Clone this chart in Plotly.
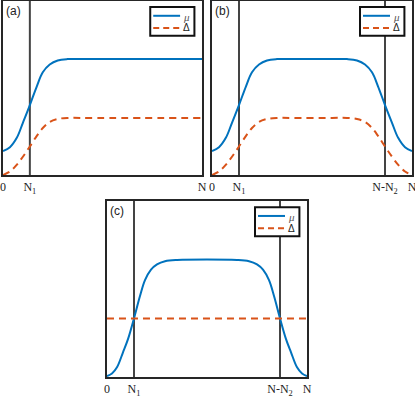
import plotly.graph_objects as go

BLUE = '#0072BD'
ORANGE = '#D95319'
FRAME = '#262626'
VLINE = '#444444'
PAGE_JS = "document.body.style.margin = '0';"

N = 200
N1 = 27
N_MINUS_N2 = 173

# panel (a): mu and delta rise near N1 and stay flat
xa_mu = [0, 7, 14, 20, 27, 34, 40, 47, 55, 65, 80, 200]
mu_a = [0.138, 0.160, 0.215, 0.300, 0.402, 0.510, 0.590, 0.635, 0.658, 0.666, 0.667, 0.667]
xa_delta = [0, 7, 14, 20, 27, 34, 40, 47, 55, 65, 80, 200]
delta_a = [0.0, 0.02, 0.06, 0.105, 0.164, 0.225, 0.270, 0.305, 0.322, 0.328, 0.328, 0.328]

# panel (b): rise at N1, fall at N-N2
xb = [0, 7, 14, 20, 27, 34, 40, 47, 55, 65, 80, 120, 135, 145, 153, 160, 166, 173, 180, 186, 193, 200]
mu_b = [0.138, 0.160, 0.215, 0.300, 0.402, 0.510, 0.590, 0.635, 0.658, 0.666, 0.667,
        0.667, 0.666, 0.658, 0.635, 0.590, 0.510, 0.402, 0.300, 0.215, 0.160, 0.138]
delta_b = [0.0, 0.02, 0.06, 0.105, 0.164, 0.225, 0.270, 0.305, 0.322, 0.328, 0.328,
           0.328, 0.328, 0.322, 0.305, 0.270, 0.225, 0.164, 0.105, 0.06, 0.02, 0.0]

# panel (c): mu from zero, delta constant
xc_mu = [0, 5, 10, 16, 21, 27, 33, 38, 44, 50, 58, 70, 130, 142, 150, 156, 162, 167, 173, 179, 184, 190, 195, 200]
mu_c = [0.005, 0.020, 0.055, 0.140, 0.215, 0.333, 0.460, 0.550, 0.610, 0.640, 0.658, 0.665,
        0.665, 0.658, 0.640, 0.610, 0.550, 0.460, 0.333, 0.215, 0.140, 0.055, 0.020, 0.005]
xc_delta = [0, 200]
delta_c = [0.333, 0.333]

tick_a = ([0, N1, N], ['0', 'N<sub>1</sub>', 'N'])
tick_bc = ([0, N1, N_MINUS_N2, N], ['0', 'N<sub>1</sub>', 'N-N<sub>2</sub>', 'N'])

fig = go.Figure()

panels = [
    ('x', 'y', '(a)', xa_mu, mu_a, xa_delta, delta_a),
    ('x2', 'y2', '(b)', xb, mu_b, xb, delta_b),
    ('x3', 'y3', '(c)', xc_mu, mu_c, xc_delta, delta_c),
]
for xr, yr, label, xm, ym, xd, yd in panels:
    fig.add_trace(go.Scatter(x=xm, y=ym, xaxis=xr, yaxis=yr, name='μ', showlegend=False,
                             mode='lines', line=dict(color=BLUE, width=2, shape='spline')))
    fig.add_trace(go.Scatter(x=xd, y=yd, xaxis=xr, yaxis=yr, name='Δ', showlegend=False,
                             mode='lines', line=dict(color=ORANGE, width=2, dash='7px,5px', shape='spline')))

    xd_ref, yd_ref = xr + ' domain', yr + ' domain'
    fig.add_annotation(xref=xd_ref, yref=yd_ref, x=0.005, y=0.995, xanchor='left', yanchor='top',
                       text=label, showarrow=False,
                       font=dict(family='Liberation Sans, Arial', size=12, color='#222'))

    # small legend box in the upper right of each panel
    fig.add_shape(type='rect', xref=xd_ref, yref=yd_ref, x0=0.74, x1=0.962, y0=0.80, y1=0.965,
                  line=dict(color='#111', width=2), fillcolor='white', layer='above')
    fig.add_shape(type='line', xref=xd_ref, yref=yd_ref, x0=0.755, x1=0.89, y0=0.915, y1=0.915,
                  line=dict(color=BLUE, width=2), layer='above')
    fig.add_shape(type='line', xref=xd_ref, yref=yd_ref, x0=0.755, x1=0.89, y0=0.845, y1=0.845,
                  line=dict(color=ORANGE, width=2, dash='6px,4px'), layer='above')
    fig.add_annotation(xref=xd_ref, yref=yd_ref, x=0.897, y=0.91, xanchor='left', yanchor='middle',
                       text='<i>μ</i>', showarrow=False,
                       font=dict(family='Liberation Serif, Times New Roman', size=11, color='#555'))
    fig.add_annotation(xref=xd_ref, yref=yd_ref, x=0.895, y=0.845, xanchor='left', yanchor='middle',
                       text='Δ', showarrow=False,
                       font=dict(family='Liberation Sans, Arial', size=10, color='#222'))

# vertical marker lines
vlines = [('x', 'y', N1), ('x2', 'y2', N1), ('x2', 'y2', N_MINUS_N2), ('x3', 'y3', N1), ('x3', 'y3', N_MINUS_N2)]
for xr, yr, xv in vlines:
    fig.add_shape(type='line', xref=xr, yref=yr + ' domain', x0=xv, x1=xv, y0=0, y1=1,
                  line=dict(color=VLINE, width=2), layer='below')

axis_style = dict(showgrid=False, zeroline=False, showline=True, mirror=True, linewidth=2,
                  linecolor=FRAME, ticks='', fixedrange=True, automargin=False,
                  ticklabeloverflow='allow')
xfont = dict(family='Liberation Serif, Times New Roman', size=12, color='#222')

fig.update_layout(
    width=415, height=398,
    margin=dict(l=0, r=0, t=0, b=0, autoexpand=False),
    paper_bgcolor='white', plot_bgcolor='white',
    showlegend=False,
    xaxis=dict(domain=[0.0072, 0.4867], range=[0, N], tickvals=tick_a[0], ticktext=tick_a[1],
               tickfont=xfont, anchor='y', **axis_style),
    yaxis=dict(domain=[0.5603, 0.9975], range=[0, 1], showticklabels=False, anchor='x', **axis_style),
    xaxis2=dict(domain=[0.5108, 0.9928], range=[0, N], tickvals=tick_bc[0], ticktext=tick_bc[1],
                tickfont=xfont, anchor='y2', **axis_style),
    yaxis2=dict(domain=[0.5603, 0.9975], range=[0, 1], showticklabels=False, anchor='x2', **axis_style),
    xaxis3=dict(domain=[0.2578, 0.7398], range=[0, N], tickvals=tick_bc[0], ticktext=tick_bc[1],
                tickfont=xfont, anchor='y3', **axis_style),
    yaxis3=dict(domain=[0.0528, 0.4950], range=[0, 1], showticklabels=False, anchor='x3', **axis_style),
)

fig.write_html('out.html', post_script=[PAGE_JS], config={'displayModeBar': False})
